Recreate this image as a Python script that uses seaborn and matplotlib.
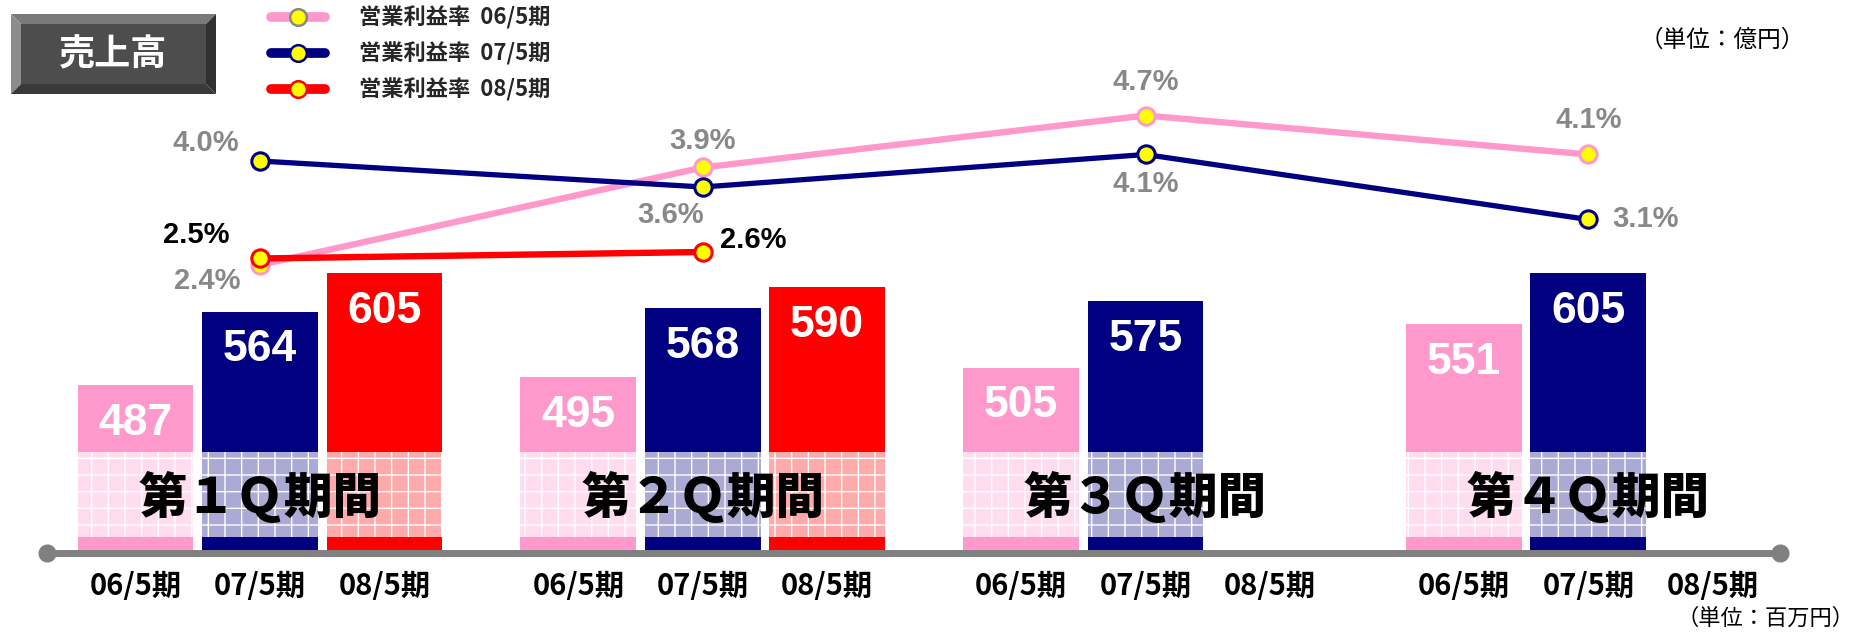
import numpy as np
import pandas as pd
import matplotlib
matplotlib.use("Agg")
import matplotlib.pyplot as plt
import seaborn as sns
from matplotlib.lines import Line2D
from matplotlib.patches import Rectangle, Polygon
from matplotlib import font_manager as fm

# ---------------- data ----------------
quarters = ["第１Ｑ期間", "第２Ｑ期間", "第３Ｑ期間", "第４Ｑ期間"]
periods = ["06/5期", "07/5期", "08/5期"]
sales_06 = [487, 495, 505, 551]
sales_07 = [564, 568, 575, 605]
sales_08 = [605, 590, np.nan, np.nan]
margin_06 = [2.4, 3.9, 4.7, 4.1]
margin_07 = [4.0, 3.6, 4.1, 3.1]
margin_08 = [2.5, 2.6, np.nan, np.nan]
legend_labels = ["営業利益率  06/5期", "営業利益率  07/5期", "営業利益率  08/5期"]
title_text = "売上高"
unit_top = "（単位：億円）"
unit_bottom = "（単位：百万円）"

colors = ["#FF99CC", "#000080", "#FF0000"]

# ---------------- fonts ----------------
sns.set_theme(style="white")
plt.rcParams["font.family"] = ["Noto Sans CJK JP", "DejaVu Sans"]
plt.rcParams["hatch.color"] = "white"
plt.rcParams["hatch.linewidth"] = 1.0


def has_font(name):
    try:
        fm.findfont(fm.FontProperties(family=name), fallback_to_default=False)
        return True
    except Exception:
        return False


if has_font("Liberation Sans Narrow"):
    pct_family, pct_size = ["Liberation Sans Narrow", "DejaVu Sans"], 25
else:
    pct_family, pct_size = ["Liberation Sans", "DejaVu Sans"], 21
num_family = ["Liberation Sans", "DejaVu Sans"]
cjk = ["Noto Sans CJK JP", "DejaVu Sans"]

W, H = 1858, 633
fig = plt.figure(figsize=(W / 100, H / 100), dpi=100)


def fx(px):
    return px / W


def fy(py):
    return 1 - py / H


# axes: from x=47..1780 px, y=0..553 px
ax = fig.add_axes([fx(47), fy(553), fx(1780) - fx(47), 553 / H])

df = pd.DataFrame({
    "quarter": quarters * 3,
    "period": np.repeat(periods, len(quarters)),
    "sales": sales_06 + sales_07 + sales_08,
})

sns.barplot(data=df, x="quarter", y="sales", hue="period", order=quarters,
            hue_order=periods, palette=dict(zip(periods, colors)),
            saturation=1, width=0.843, gap=0.07, errorbar=None,
            edgecolor="none", linewidth=0, legend=False, ax=ax, zorder=2)

ax.set_xlim(-0.481, 3.433)
ax.set_ylim(309.8, 892.6)

band_lo, band_hi = 326.7, 416.3
for cont in ax.containers:
    for bar in cont:
        h = bar.get_height()
        if np.isnan(h):
            continue
        x0, w = bar.get_x(), bar.get_width()
        ax.add_patch(Rectangle((x0, band_lo), w, band_hi - band_lo,
                               facecolor=(1, 1, 1, 0.67), edgecolor="white",
                               linewidth=0, hatch="+", zorder=2.5))
        ax.annotate(f"{h:.0f}", (x0 + w / 2, h), xytext=(0, -27.5),
                    textcoords="offset points", ha="center", va="center",
                    color="white", fontsize=32, fontweight="bold",
                    family=num_family, zorder=4)

# quarter labels
for i, q in enumerate(quarters):
    ax.text(i, 368.8, q, ha="center", va="center", fontsize=35,
            fontweight=900, family=cjk, color="black", zorder=5)

# ticks per bar
offs = [-0.281, 0.0, 0.281]
tick_pos = [i + o for i in range(len(quarters)) for o in offs]
tick_lab = [p for _ in quarters for p in periods]
ax.set_xticks(tick_pos)
ax.set_xticklabels(tick_lab, fontsize=21, fontweight="bold", family=cjk, color="black")
ax.tick_params(axis="x", length=0, pad=13)
ax.set_yticks([])
ax.set_xlabel("")
ax.set_ylabel("")
for s in ax.spines.values():
    s.set_visible(False)

# base line with round end dots
ax.plot([0, 1], [0, 0], transform=ax.transAxes, color="#808080", lw=5,
        clip_on=False, zorder=6, solid_capstyle="butt")
ax.plot([0, 1], [0, 0], "o", transform=ax.transAxes, color="#808080", ms=12,
        clip_on=False, zorder=6)

# ---------------- lines (twin axis) ----------------
ax2 = ax.twinx()
ax2.set_ylim(-2.031, 6.477)
xq = np.arange(len(quarters))
margins = [margin_06, margin_07, margin_08]
lws = [4.6, 3.8, 4.6]
for m, c, lw in zip(margins, colors, lws):
    mm = np.array(m, dtype=float)
    ok = ~np.isnan(mm)
    sns.lineplot(x=xq[ok], y=mm[ok], ax=ax2, color=c, lw=lw, marker="o",
                 ms=12.5, mfc="#FFFF00", mec=c, mew=2.2, zorder=7)
ax2.set_xlim(-0.481, 3.433)
ax2.set_yticks([])
ax2.set_ylabel("")
for s in ax2.spines.values():
    s.set_visible(False)

label_offsets = [
    [(-38, -11.5), (0, 19.4), (0, 24), (0, 24.7)],
    [(-39, 12.8), (-23.4, -20), (0, -21), (41, 0)],
    [(-46, 17), (36.7, 8.6), None, None],
]
label_colors = ["#888888", "#888888", "black"]
for m, offsl, lc in zip(margins, label_offsets, label_colors):
    for i, v in enumerate(m):
        if np.isnan(v):
            continue
        ax2.annotate(f"{v:.1f}%", (i, v), xytext=offsl[i],
                     textcoords="offset points", ha="center", va="center",
                     color=lc, fontsize=pct_size, fontweight="bold",
                     family=pct_family, zorder=8)

# ---------------- legend ----------------
handles = [
    Line2D([], [], color=colors[0], lw=7, marker="o", ms=12, mfc="#FFFF00",
           mec="#888888", mew=1.8),
    Line2D([], [], color=colors[1], lw=7, marker="o", ms=12, mfc="#FFFF00",
           mec=colors[1], mew=1.8),
    Line2D([], [], color=colors[2], lw=7, marker="o", ms=12, mfc="#FFFF00",
           mec=colors[2], mew=1.8),
]
fig.legend(handles, legend_labels, loc="upper left",
           bbox_to_anchor=(fx(271), fy(6.5)), frameon=False,
           prop={"family": cjk, "weight": "bold", "size": 16},
           handlelength=2.45, handletextpad=1.5, labelspacing=0.56,
           borderpad=0, borderaxespad=0)

# ---------------- title box ----------------
x0, x1, y0, y1, b = 11, 216, 14, 94, 10


def poly(pts, color):
    fig.patches.append(Polygon([(fx(a), fy(c)) for a, c in pts], closed=True,
                               transform=fig.transFigure, facecolor=color,
                               edgecolor="none", zorder=1))


poly([(x0, y0), (x1, y0), (x1 - b, y0 + b), (x0 + b, y0 + b)], "#7A7A7A")
poly([(x0, y0), (x0 + b, y0 + b), (x0 + b, y1 - b), (x0, y1)], "#8C8C8C")
poly([(x1, y0), (x1, y1), (x1 - b, y1 - b), (x1 - b, y0 + b)], "#303030")
poly([(x0, y1), (x0 + b, y1 - b), (x1 - b, y1 - b), (x1, y1)], "#3A3A3A")
poly([(x0 + b, y0 + b), (x1 - b, y0 + b), (x1 - b, y1 - b), (x0 + b, y1 - b)], "#4D4D4D")
fig.text(fx((x0 + x1) / 2), fy(55), title_text, ha="center", va="center",
         color="white", fontsize=26, fontweight="bold", family=cjk, zorder=3)

# ---------------- units ----------------
fig.text(fx(1722), fy(40), unit_top, ha="center", va="center", fontsize=17,
         family=cjk, color="black")
fig.text(fx(1855), fy(618), unit_bottom, ha="right", va="center", fontsize=16,
         family=cjk, color="black")

fig.savefig("out.png", dpi=100)
